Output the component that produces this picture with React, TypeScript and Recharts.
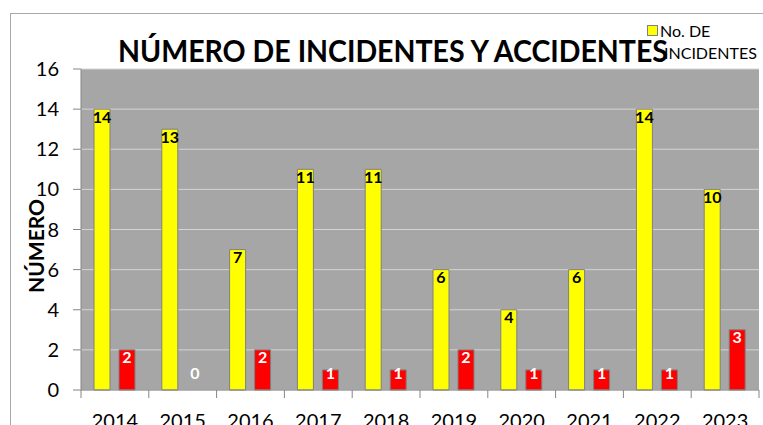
import React from 'react';
import { BarChart, Bar, Cell, XAxis, YAxis, CartesianGrid, Legend, LabelList } from 'recharts';

const years = ['2014', '2015', '2016', '2017', '2018', '2019', '2020', '2021', '2022', '2023'];
const incidentes = [14, 13, 7, 11, 11, 6, 4, 6, 14, 10];
const accidentes = [2, 0, 2, 1, 1, 2, 1, 1, 1, 3];
const yTicks = [0, 2, 4, 6, 8, 10, 12, 14, 16];

const FONT = 'Lato, "Open Sans", sans-serif';
const AXIS_GRAY = '#868686';

const data = years.map((year, i) => ({
  year,
  incidentes: incidentes[i],
  accidentes: accidentes[i],
}));

// tick lines sit on the category boundaries, like Excel
function YearTick(props: any) {
  const { x, y, payload, index, width } = props;
  const band = (width || 678) / years.length;
  const half = band / 2;
  return (
    <g>
      <line x1={x - half} y1={y} x2={x - half} y2={y + 8} stroke={AXIS_GRAY} />
      {index === years.length - 1 && (
        <line x1={x + half} y1={y} x2={x + half} y2={y + 8} stroke={AXIS_GRAY} />
      )}
      <text x={x} y={y + 38} textAnchor="middle" fontSize={20} fontFamily={FONT} fill="#000">
        {payload.value}
      </text>
    </g>
  );
}

function makeBarLabel(color: string) {
  return (props: any) => {
    const { x, y, width, height, value } = props;
    const bottom = y + height;
    const cy = Math.min(y + 7, bottom - 18);
    return (
      <text
        x={x + width / 2}
        y={cy}
        textAnchor="middle"
        dominantBaseline="central"
        fontSize={16}
        fontWeight="bold"
        fontFamily={FONT}
        fill={color}
      >
        {value}
      </text>
    );
  };
}

function LegendBox(props: any) {
  const item = (props.payload || [])[0];
  if (!item) return null;
  return (
    <div style={{ display: 'flex', alignItems: 'flex-start', fontFamily: FONT, fontSize: 16, color: '#000' }}>
      <div
        style={{
          width: 9,
          height: 9,
          marginTop: 5,
          marginRight: 2,
          background: '#FFFF00',
          border: '1px solid #808080',
        }}
      />
      <div style={{ lineHeight: '22px' }}>
        <div>No. DE</div>
        <div style={{ marginLeft: 4 }}>INCIDENTES</div>
      </div>
    </div>
  );
}

export default function App() {
  return (
    <div style={{ position: 'absolute', left: 0, top: 0, width: 763, height: 425, overflow: 'hidden', background: '#fff' }}>
      <div
        style={{
          position: 'absolute',
          left: 10,
          top: 13,
          width: 760,
          height: 420,
          borderTop: '1px solid #A8A8A8',
          borderLeft: '1px solid #A8A8A8',
        }}
      />
      <BarChart
        width={763}
        height={425}
        data={data}
        margin={{ top: 69, right: 4, bottom: 0, left: 21 }}
        barGap={9}
      >
        <CartesianGrid vertical={false} stroke="#D4D4D4" fill="#A6A6A6" fillOpacity={1} />
        <XAxis
          dataKey="year"
          height={35}
          axisLine={{ stroke: AXIS_GRAY }}
          tickLine={false}
          tickSize={0}
          tickMargin={0}
          interval={0}
          tick={<YearTick />}
        />
        <YAxis
          width={60}
          domain={[0, 16]}
          ticks={yTicks}
          interval={0}
          axisLine={{ stroke: AXIS_GRAY }}
          tickLine={{ stroke: AXIS_GRAY }}
          tickSize={8}
          tickMargin={14}
          tick={{ fontSize: 20, fontFamily: FONT, fill: '#000' }}
          label={{
            content: () => (
              <text
                transform="translate(35,246) rotate(-90)"
                textAnchor="middle"
                dominantBaseline="central"
                fontSize={21}
                fontWeight="bold"
                fontFamily={FONT}
                fill="#000"
              >
                NÚMERO
              </text>
            ),
          }}
        />
        <Legend
          layout="horizontal"
          verticalAlign="middle"
          align="center"
          content={<LegendBox />}
          wrapperStyle={{ position: 'absolute', left: 647, top: 20, width: 116, height: 46 }}
        />
        <Bar
          dataKey="incidentes"
          name="No. DE INCIDENTES"
          fill="#FFFF00"
          stroke="#808080"
          strokeWidth={1}
          barSize={16}
          isAnimationActive={false}
        >
          <LabelList dataKey="incidentes" content={makeBarLabel('#000')} />
        </Bar>
        <Bar
          dataKey="accidentes"
          name="No. DE ACCIDENTES"
          fill="#FF0000"
          stroke="#808080"
          strokeWidth={1}
          barSize={16}
          minPointSize={1}
          isAnimationActive={false}
        >
          {accidentes.map((v, i) => (
            <Cell
              key={years[i]}
              fill={v === 0 ? 'none' : '#FF0000'}
              stroke={v === 0 ? 'none' : '#808080'}
            />
          ))}
          <LabelList dataKey="accidentes" content={makeBarLabel('#fff')} />
        </Bar>
      </BarChart>
      <svg
        width={763}
        height={80}
        style={{ position: 'absolute', left: 0, top: 0, pointerEvents: 'none' }}
      >
        <text
          x={118}
          y={62}
          textLength={550}
          lengthAdjust="spacingAndGlyphs"
          fontSize={30}
          fontWeight="bold"
          fontFamily={FONT}
          fill="#000"
        >
          NÚMERO DE INCIDENTES Y ACCIDENTES
        </text>
      </svg>
    </div>
  );
}
